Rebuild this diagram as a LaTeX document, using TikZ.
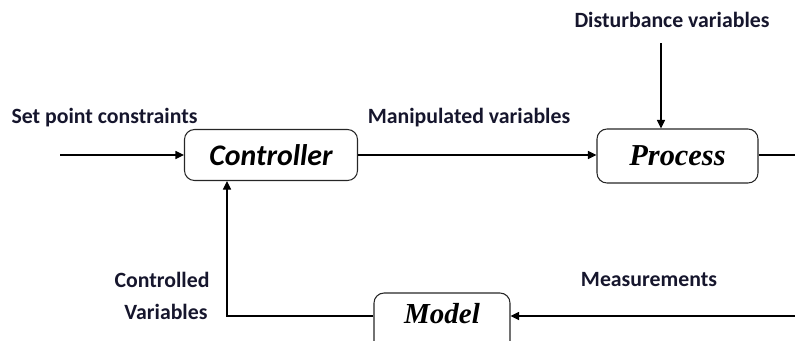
\documentclass[tikz,border=0pt]{standalone}
\usepackage{fontspec}
\setmainfont{Carlito}
\newfontfamily\serifbox{Liberation Serif}
\usetikzlibrary{arrows.meta, positioning}
\definecolor{labelink}{RGB}{22,22,45}
\tikzstyle{every picture} = [line width=0.6pt, >={Triangle[length=1.7mm, width=1.6mm]}]
\tikzstyle{block} = [draw=black!85, rounded corners=2mm, inner sep=0pt]
\tikzstyle{lbl} = [text=labelink, font=\fontsize{12.4}{14}\selectfont\bfseries, inner sep=0pt]

\begin{document}
\begin{tikzpicture}
            \clip (0,0) rectangle (15.9,-6.8);
            \node (controller) at (5.42,-3.1) [block, minimum width=3.46cm, minimum height=1.02cm, font=\fontsize{17}{19}\selectfont\bfseries\itshape] {Controller};
            \node (process) at (13.55,-3.12) [block, minimum width=3.22cm, minimum height=1.08cm, font=\serifbox\fontsize{17.3}{19}\selectfont\bfseries\itshape] {Process};
            \node (model) at (8.84,-6.46) [block, minimum width=2.72cm, text height=0.6cm, text depth=0.6cm, font=\serifbox\fontsize{16.5}{18}\selectfont\bfseries\itshape] {Model};

            \node (setpoint) at (2.09,-2.36) [lbl] {Set point constraints};
            \node (manipulated) at (9.38,-2.36) [lbl] {Manipulated variables};
            \node (disturbance) at (13.44,-0.4) [lbl] {Disturbance variables};
            \node (controlled) at (4.2,-5.6) [lbl, anchor=east] {Controlled};
            \node (variables) at (4.16,-6.24) [lbl, anchor=east] {Variables};
            \node (measurements) at (12.98,-5.6) [lbl] {Measurements};

            \coordinate (in) at (1.2,-3.1);
            \coordinate (dist) at (13.22,-0.86);
            \coordinate (out) at (16.3,-3.1);
            \coordinate (back) at (16.3,-6.32);
            \coordinate (fb) at (4.54,-6.32);

            \draw[->] (in) -- (controller);
            \draw[->] (controller) -- (controller -| process.west);
            \draw[->] (dist) -- (dist |- process.north);
            \draw (process.east |- out) -- (out) -- (back);
            \draw[->] (back) -- (back -| model.east);
            \draw[->] (fb -| model.west) -- (fb) -- (fb |- controller.south);
        \end{tikzpicture}
\end{document}
